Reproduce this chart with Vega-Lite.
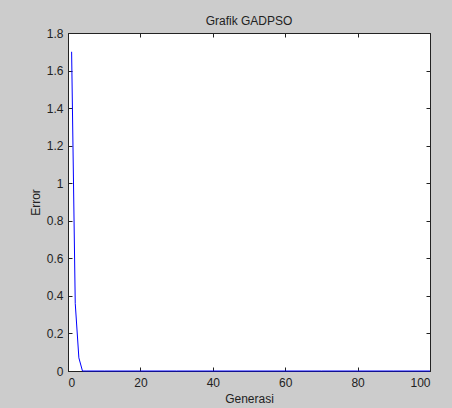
{
  "$schema": "https://vega.github.io/schema/vega-lite/v6.json",
  "width": 362,
  "height": 338,
  "autosize": {"type": "none"},
  "padding": {"left": 68, "top": 33, "right": 22, "bottom": 37},
  "background": "#cccccc",
  "title": {"text": "Grafik GADPSO", "font": "Liberation Sans", "fontSize": 12, "fontWeight": "normal", "color": "#222222", "offset": -1},
  "config": {
    "view": {"fill": "white", "stroke": "#222222", "strokeWidth": 1},
    "axis": {
      "grid": false,
      "domainColor": "#222222",
      "tickColor": "#222222",
      "tickSize": -4,
      "labelFont": "Liberation Sans",
      "labelFontSize": 12,
      "labelColor": "#222222",
      "titleFont": "Liberation Sans",
      "titleFontSize": 12,
      "titleFontWeight": "normal",
      "titleColor": "#222222"
    }
  },
  "data": {"values": [
    {"Generasi": 1, "Error": 1.7},
    {"Generasi": 2, "Error": 0.36},
    {"Generasi": 3, "Error": 0.07},
    {"Generasi": 4, "Error": 0.0},
    {"Generasi": 5, "Error": 0.0},
    {"Generasi": 10, "Error": 0.0},
    {"Generasi": 20, "Error": 0.0},
    {"Generasi": 30, "Error": 0.0},
    {"Generasi": 40, "Error": 0.0},
    {"Generasi": 50, "Error": 0.0},
    {"Generasi": 60, "Error": 0.0},
    {"Generasi": 70, "Error": 0.0},
    {"Generasi": 80, "Error": 0.0},
    {"Generasi": 90, "Error": 0.0},
    {"Generasi": 100, "Error": 0.0}
  ]},
  "layer": [
    {
      "mark": {"type": "line", "strokeOpacity": 0},
      "encoding": {
        "x": {"field": "Generasi", "type": "quantitative", "scale": {"domain": [0, 100], "nice": false},
              "axis": {"orient": "top", "labels": false, "title": null, "domain": false, "values": [0, 20, 40, 60, 80, 100]}},
        "y": {"field": "Error", "type": "quantitative", "scale": {"domain": [0, 1.8], "nice": false},
              "axis": {"orient": "right", "labels": false, "title": null, "domain": false, "values": [0, 0.2, 0.4, 0.6, 0.8, 1, 1.2, 1.4, 1.6, 1.8]}}
      }
    },
    {
      "mark": {"type": "line", "color": "#0000ff", "strokeWidth": 1},
      "encoding": {
        "x": {"field": "Generasi", "type": "quantitative", "scale": {"domain": [0, 100], "nice": false},
              "axis": {"orient": "bottom", "title": "Generasi", "values": [0, 20, 40, 60, 80, 100], "labelPadding": 10, "titlePadding": 5}},
        "y": {"field": "Error", "type": "quantitative", "scale": {"domain": [0, 1.8], "nice": false},
              "axis": {"orient": "left", "title": "Error", "format": "~g", "values": [0, 0.2, 0.4, 0.6, 0.8, 1, 1.2, 1.4, 1.6, 1.8], "labelPadding": 9, "titlePadding": 4}}
      }
    }
  ],
  "resolve": {"axis": {"x": "independent", "y": "independent"}}
}
